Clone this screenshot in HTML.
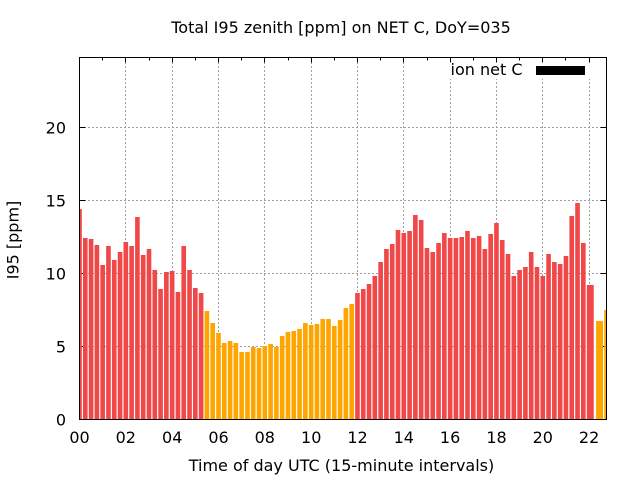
<!DOCTYPE html>
<html>
<head>
<meta charset="utf-8">
<style>
html,body{margin:0;padding:0;background:#fff;}
svg{display:block;}
text{font-family:"DejaVu Sans","Liberation Sans",sans-serif;font-size:16px;fill:#000;}
</style>
</head>
<body>
<svg width="640" height="480" viewBox="0 0 640 480" xmlns="http://www.w3.org/2000/svg">
<rect x="0" y="0" width="640" height="480" fill="#fff"/>
<defs>
<clipPath id="pa"><rect x="80" y="58" width="526" height="361.5"/></clipPath>
</defs>
<path fill="none" stroke="#a0a0a0" stroke-width="1" stroke-dasharray="2,2" d="M80 346.5H606M80 273.5H606M80 200.5H606M80 127.5H606M125.5 58V419M172.5 58V419M218.5 58V419M264.5 58V419M311.5 58V419M357.5 58V419M403.5 58V419M450.5 58V419M496.5 58V419M542.5 58V419M589.5 58V419"/>
<rect x="440" y="58" width="166" height="21" fill="#fff"/>
<path fill="none" stroke="#000" stroke-width="1" d="M80 419.5h5.5M80 346.5h5.5M80 273.5h5.5M80 200.5h5.5M80 127.5h5.5M606 346.5h-5.5M606 273.5h-5.5M606 200.5h-5.5M606 127.5h-5.5M125.5 58v4.5M172.5 58v4.5M218.5 58v4.5M264.5 58v4.5M311.5 58v4.5M357.5 58v4.5M403.5 58v4.5M450.5 58v4.5M496.5 58v4.5M542.5 58v4.5M589.5 58v4.5M102.5 58v2.5M149.5 58v2.5M195.5 58v2.5M241.5 58v2.5M288.5 58v2.5M334.5 58v2.5M380.5 58v2.5M427.5 58v2.5M473.5 58v2.5M519.5 58v2.5M565.5 58v2.5"/>
<g clip-path="url(#pa)">
<path fill="#f04848" d="M77.18 419.5V209h4.63V419.5zM82.98 419.5V238h4.63V419.5zM88.77 419.5V239h4.63V419.5zM94.56 419.5V245h4.63V419.5zM100.35 419.5V265h4.63V419.5zM106.14 419.5V246h4.63V419.5zM111.93 419.5V260h4.63V419.5zM117.72 419.5V252h4.63V419.5zM123.51 419.5V242h4.63V419.5zM129.3 419.5V246h4.63V419.5zM135.09 419.5V217h4.63V419.5zM140.88 419.5V255h4.63V419.5zM146.68 419.5V249h4.63V419.5zM152.47 419.5V270h4.63V419.5zM158.26 419.5V289h4.63V419.5zM164.05 419.5V272h4.63V419.5zM169.84 419.5V271h4.63V419.5zM175.63 419.5V292h4.63V419.5zM181.42 419.5V246h4.63V419.5zM187.21 419.5V270h4.63V419.5zM193 419.5V288h4.63V419.5zM198.79 419.5V293h4.63V419.5zM355.15 419.5V293h4.63V419.5zM360.94 419.5V289h4.63V419.5zM366.73 419.5V284h4.63V419.5zM372.52 419.5V276h4.63V419.5zM378.32 419.5V262h4.63V419.5zM384.11 419.5V249h4.63V419.5zM389.9 419.5V244h4.63V419.5zM395.69 419.5V230h4.63V419.5zM401.48 419.5V233h4.63V419.5zM407.27 419.5V231h4.63V419.5zM413.06 419.5V215h4.63V419.5zM418.85 419.5V220h4.63V419.5zM424.64 419.5V248h4.63V419.5zM430.43 419.5V252h4.63V419.5zM436.23 419.5V243h4.63V419.5zM442.02 419.5V233h4.63V419.5zM447.81 419.5V238h4.63V419.5zM453.6 419.5V238h4.63V419.5zM459.39 419.5V237h4.63V419.5zM465.18 419.5V231h4.63V419.5zM470.97 419.5V238h4.63V419.5zM476.76 419.5V236h4.63V419.5zM482.55 419.5V249h4.63V419.5zM488.34 419.5V234h4.63V419.5zM494.14 419.5V223h4.63V419.5zM499.93 419.5V240h4.63V419.5zM505.72 419.5V254h4.63V419.5zM511.51 419.5V276h4.63V419.5zM517.3 419.5V270h4.63V419.5zM523.09 419.5V267h4.63V419.5zM528.88 419.5V252h4.63V419.5zM534.67 419.5V267h4.63V419.5zM540.46 419.5V276h4.63V419.5zM546.25 419.5V254h4.63V419.5zM552.05 419.5V262h4.63V419.5zM557.84 419.5V264h4.63V419.5zM563.63 419.5V256h4.63V419.5zM569.42 419.5V216h4.63V419.5zM575.21 419.5V203h4.63V419.5zM581 419.5V243h4.63V419.5zM586.79 419.5V285h6.95V419.5z"/>
<path fill="#ffa500" d="M204.59 419.5V311h4.63V419.5zM210.38 419.5V323h4.63V419.5zM216.17 419.5V333h4.63V419.5zM221.96 419.5V343h4.63V419.5zM227.75 419.5V341h4.63V419.5zM233.54 419.5V343h4.63V419.5zM239.33 419.5V352h4.63V419.5zM245.12 419.5V352h4.63V419.5zM250.91 419.5V347h4.63V419.5zM256.7 419.5V348h4.63V419.5zM262.5 419.5V346h4.63V419.5zM268.29 419.5V344h4.63V419.5zM274.08 419.5V347h4.63V419.5zM279.87 419.5V336h4.63V419.5zM285.66 419.5V332h4.63V419.5zM291.45 419.5V331h4.63V419.5zM297.24 419.5V329h4.63V419.5zM303.03 419.5V323h4.63V419.5zM308.82 419.5V325h4.63V419.5zM314.61 419.5V324h4.63V419.5zM320.41 419.5V319h4.63V419.5zM326.2 419.5V319h4.63V419.5zM331.99 419.5V326h4.63V419.5zM337.78 419.5V320h4.63V419.5zM343.57 419.5V308h4.63V419.5zM349.36 419.5V304h4.63V419.5zM596.06 419.5V321h6.95V419.5zM604.16 419.5V310h4.63V419.5z"/>
</g>
<rect x="79.5" y="57.5" width="527" height="362" fill="none" stroke="#000" stroke-width="1"/>
<text x="522.5" y="75" text-anchor="end">ion net C</text>
<rect x="536" y="66" width="49" height="9" fill="#000"/>
<text x="341" y="33" text-anchor="middle">Total I95 zenith [ppm] on NET C, DoY=035</text>
<text x="66" y="425.3" text-anchor="end">0</text>
<text x="66" y="352.3" text-anchor="end">5</text>
<text x="66" y="279.3" text-anchor="end">10</text>
<text x="66" y="206.3" text-anchor="end">15</text>
<text x="66" y="133.3" text-anchor="end">20</text>
<text x="79.5" y="443" text-anchor="middle">00</text>
<text x="125.8" y="443" text-anchor="middle">02</text>
<text x="172.2" y="443" text-anchor="middle">04</text>
<text x="218.5" y="443" text-anchor="middle">06</text>
<text x="264.8" y="443" text-anchor="middle">08</text>
<text x="311.2" y="443" text-anchor="middle">10</text>
<text x="357.5" y="443" text-anchor="middle">12</text>
<text x="403.8" y="443" text-anchor="middle">14</text>
<text x="450.1" y="443" text-anchor="middle">16</text>
<text x="496.5" y="443" text-anchor="middle">18</text>
<text x="542.8" y="443" text-anchor="middle">20</text>
<text x="589.1" y="443" text-anchor="middle">22</text>
<text x="341.5" y="471" text-anchor="middle">Time of day UTC (15-minute intervals)</text>
<text transform="translate(18.5,240) rotate(-90)" text-anchor="middle">I95 [ppm]</text>
</svg>
</body>
</html>
